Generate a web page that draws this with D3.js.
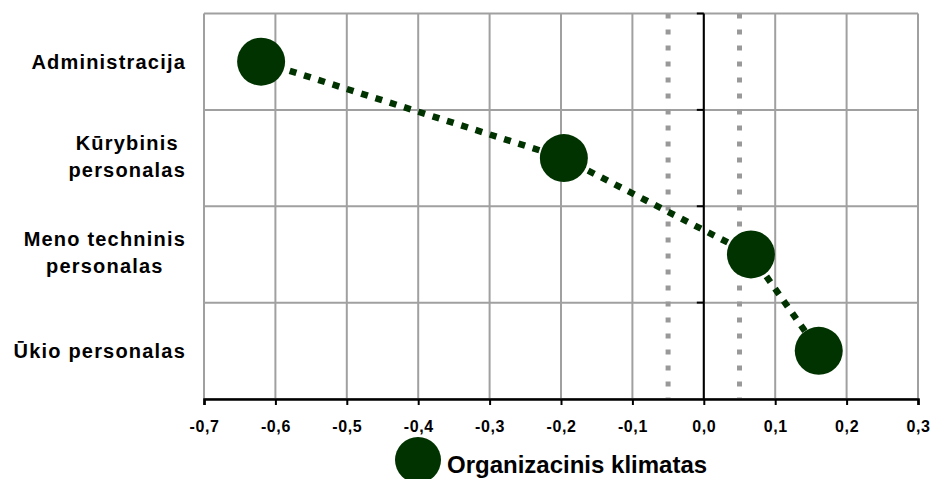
<!DOCTYPE html>
<html>
<head>
<meta charset="utf-8">
<script src="https://cdn.jsdelivr.net/npm/d3@7"></script>
<style>
  body { margin: 0; background: #fff; }
  text { font-family: Arial, "Liberation Sans", sans-serif; font-weight: bold; fill: #000; }
</style>
</head>
<body>
<script>
const categories = ["Administracija", "Kūrybinis personalas", "Meno techninis personalas", "Ūkio personalas"];
const labelLines = [["Administracija"], ["Kūrybinis", "personalas"], ["Meno techninis", "personalas"], ["Ūkio personalas"]];
const values = [-0.62, -0.196, 0.066, 0.161];
const xTicks = [-0.7, -0.6, -0.5, -0.4, -0.3, -0.2, -0.1, 0.0, 0.1, 0.2, 0.3];
const refLines = [-0.05, 0.05];
const seriesName = "Organizacinis klimatas";

const W = 932, H = 479;
const plotL = 204, plotR = 918, plotT = 13.5, plotB = 399;
const green = "#003300", grid = "#a0a0a0";

const svg = d3.select("body").append("svg")
    .attr("width", W)
    .attr("height", H);

const x = d3.scaleLinear().domain([-0.7, 0.3]).range([plotL, plotR]);
const y = d3.scaleBand().domain(categories).range([plotT, plotB]);

// grid
svg.append("g").selectAll("line")
    .data(xTicks)
  .enter().append("line")
    .attr("x1", d => x(d)).attr("x2", d => x(d))
    .attr("y1", plotT).attr("y2", plotB)
    .attr("stroke", grid).attr("stroke-width", 2);

const bounds = categories.map(c => y(c)).concat([plotB]);
svg.append("g").selectAll("line")
    .data(bounds)
  .enter().append("line")
    .attr("x1", plotL).attr("x2", plotR)
    .attr("y1", d => d).attr("y2", d => d)
    .attr("stroke", grid).attr("stroke-width", 2);

// reference lines
svg.append("g").selectAll("line")
    .data(refLines)
  .enter().append("line")
    .attr("x1", d => x(d)).attr("x2", d => x(d))
    .attr("y1", plotT).attr("y2", plotB)
    .attr("stroke", "#999").attr("stroke-width", 5)
    .attr("stroke-dasharray", "5 11");

// zero axis
svg.append("line")
    .attr("x1", x(0)).attr("x2", x(0))
    .attr("y1", plotT).attr("y2", plotB)
    .attr("stroke", "#000").attr("stroke-width", 2);
svg.append("g").selectAll("line")
    .data(bounds.slice(0, -1))
  .enter().append("line")
    .attr("x1", x(0) - 7).attr("x2", x(0))
    .attr("y1", d => d).attr("y2", d => d)
    .attr("stroke", "#000").attr("stroke-width", 2);

// x axis
const xAxis = svg.append("g")
    .attr("transform", `translate(0,${plotB})`)
    .call(d3.axisBottom(x).tickValues(xTicks).tickSize(6)
      .tickFormat(d => d3.format(".1f")(d).replace(".", ",").replace("−", "-")));
xAxis.attr("font-family", null).attr("font-size", 16);
xAxis.select(".domain").attr("stroke", "#000").attr("stroke-width", 2.5);
xAxis.selectAll(".tick line").attr("stroke", "#000").attr("stroke-width", 2);
xAxis.selectAll(".tick text")
    .attr("y", 33).attr("dy", null)
    .style("font-size", "16px").style("letter-spacing", "0.6px")
    .attr("fill", "#000");

// category labels
const lab = svg.append("g").selectAll("text")
    .data(categories)
  .enter().append("text")
    .attr("text-anchor", "middle")
    .style("font-size", "20px")
    .style("letter-spacing", "1.2px");
lab.each(function(c, i) {
  const lines = labelLines[i];
  const t = d3.select(this);
  lines.forEach((s, j) => {
    t.append("tspan")
      .attr("x", 0)
      .attr("y", y(c) + y.bandwidth() / 2 + 7 + (j - (lines.length - 1) / 2) * 27 - (lines.length - 1) * 1.5)
      .text(s);
  });
});
lab.each(function() {
  const bb = this.getBBox();
  d3.select(this).attr("transform", `translate(${186 - (bb.x + bb.width)},0)`);
});

// series
const pts = values.map((v, i) => [x(v), y(categories[i]) + y.bandwidth() / 2]);
svg.append("path")
    .attr("d", d3.line()(pts))
    .attr("fill", "none")
    .attr("stroke", green).attr("stroke-width", 6.5)
    .attr("stroke-dasharray", "7 8");
svg.append("g").selectAll("circle")
    .data(pts)
  .enter().append("circle")
    .attr("cx", d => d[0]).attr("cy", d => d[1])
    .attr("r", 24)
    .attr("fill", green);

// legend
svg.append("circle")
    .attr("cx", 418).attr("cy", 460).attr("r", 23)
    .attr("fill", green);
svg.append("text")
    .attr("x", 447).attr("y", 473)
    .style("font-size", "24px")
    .text(seriesName);
</script>
</body>
</html>
